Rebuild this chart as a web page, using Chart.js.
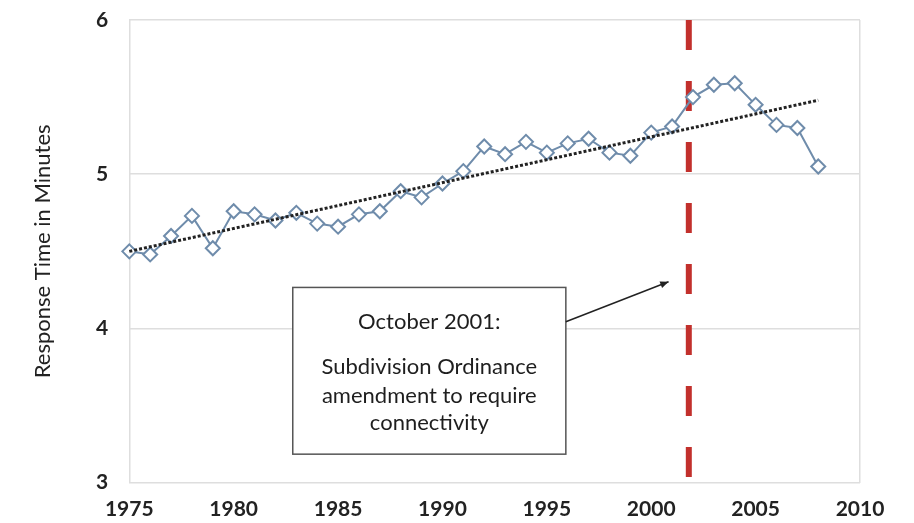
<!DOCTYPE html>
<html>
<head>
<meta charset="utf-8">
<script src="https://cdn.jsdelivr.net/npm/chart.js@4.4.1/dist/chart.umd.min.js"></script>
<style>
  html, body { margin: 0; padding: 0; background: #fff; }
  #wrap { width: 914px; height: 523px; position: relative; }
</style>
</head>
<body>
<div id="wrap"><canvas id="chart"></canvas></div>
<script>
// response time per year
const years = [1975, 1976, 1977, 1978, 1979, 1980, 1981, 1982, 1983, 1984, 1985, 1986,
  1987, 1988, 1989, 1990, 1991, 1992, 1993, 1994, 1995, 1996, 1997, 1998, 1999,
  2000, 2001, 2002, 2003, 2004, 2005, 2006, 2007, 2008];
const responseTimes = [4.50, 4.48, 4.60, 4.73, 4.52, 4.76, 4.74, 4.70, 4.75, 4.68, 4.66, 4.74,
  4.76, 4.89, 4.85, 4.94, 5.02, 5.18, 5.13, 5.21, 5.14, 5.20, 5.23, 5.14, 5.12,
  5.27, 5.31, 5.50, 5.58, 5.59, 5.45, 5.32, 5.30, 5.05];

// dotted trend line endpoints
const trendYears = [1975, 2008];
const trendValues = [4.50, 5.48];

// ordinance date marker
const ordinanceYear = 2001.8;

const xTicks = [1975, 1980, 1985, 1990, 1995, 2000, 2005, 2010];
const yTicks = [3, 4, 5, 6];

const noteLines = ['October 2001:', 'Subdivision Ordinance', 'amendment to require', 'connectivity'];

const FONT = 'Lato, "Open Sans", sans-serif';
const lineColor = '#6f8cab';

// annotation box + arrow, placed in data units
const annotationPlugin = {
  id: 'note',
  afterDatasetsDraw(chart) {
    const { ctx, scales: { x, y } } = chart;
    const left = x.getPixelForValue(1982.83), right = x.getPixelForValue(1995.91);
    const top = y.getPixelForValue(4.266), bottom = y.getPixelForValue(3.185);
    ctx.save();
    ctx.fillStyle = '#fff';
    ctx.fillRect(left, top, right - left, bottom - top);
    ctx.strokeStyle = '#555';
    ctx.lineWidth = 1.5;
    ctx.strokeRect(left, top, right - left, bottom - top);

    ctx.fillStyle = '#1e1e1e';
    ctx.font = '22px ' + FONT;
    ctx.textAlign = 'center';
    ctx.textBaseline = 'middle';
    const cx = (left + right) / 2;
    const lineYs = [4.044, 3.752, 3.562, 3.389];
    noteLines.forEach((t, i) => ctx.fillText(t, cx, y.getPixelForValue(lineYs[i])));

    // arrow from box edge to marker line
    const x0 = right, y0 = y.getPixelForValue(4.044);
    const x1 = x.getPixelForValue(2000.83), y1 = y.getPixelForValue(4.303);
    ctx.strokeStyle = '#222';
    ctx.lineWidth = 1.5;
    ctx.beginPath();
    ctx.moveTo(x0, y0);
    ctx.lineTo(x1, y1);
    ctx.stroke();
    const ang = Math.atan2(y1 - y0, x1 - x0);
    ctx.fillStyle = '#222';
    ctx.beginPath();
    ctx.moveTo(x1, y1);
    ctx.lineTo(x1 - 9 * Math.cos(ang - 0.4), y1 - 9 * Math.sin(ang - 0.4));
    ctx.lineTo(x1 - 9 * Math.cos(ang + 0.4), y1 - 9 * Math.sin(ang + 0.4));
    ctx.closePath();
    ctx.fill();
    ctx.restore();
  }
};

new Chart(document.getElementById('chart'), {
  type: 'line',
  data: {
    datasets: [
      {
        label: 'Response time',
        data: years.map((yr, i) => ({ x: yr, y: responseTimes[i] })),
        borderColor: lineColor,
        borderWidth: 2,
        pointStyle: 'rectRot',
        pointRadius: 7,
        pointBackgroundColor: '#fff',
        pointBorderColor: lineColor,
        pointBorderWidth: 2,
        tension: 0,
        clip: false,
        order: 2
      },
      {
        label: 'Trend',
        data: trendYears.map((yr, i) => ({ x: yr, y: trendValues[i] })),
        borderColor: '#222',
        borderWidth: 3,
        borderDash: [3, 2],
        pointRadius: 0,
        clip: false,
        order: 1
      },
      {
        label: 'October 2001',
        data: [{ x: ordinanceYear, y: 6 }, { x: ordinanceYear, y: 3 }],
        borderColor: '#c2302c',
        borderWidth: 6,
        borderDash: [30, 31],
        pointRadius: 0,
        order: 3
      }
    ]
  },
  options: {
    responsive: true,
    maintainAspectRatio: false,
    animation: false,
    layout: { padding: { top: 20, right: 54, left: 0, bottom: 0 } },
    plugins: {
      legend: { display: false },
      tooltip: { enabled: false }
    },
    scales: {
      x: {
        type: 'linear',
        min: 1975,
        max: 2010,
        afterBuildTicks: (s) => { s.ticks = xTicks.map(v => ({ value: v })); },
        afterFit: (s) => { s.height = 40.3; s.paddingLeft = 0; s.paddingRight = 0; },
        ticks: {
          padding: 14,
          color: '#222',
          font: { family: FONT, size: 21, weight: 'bold' },
          callback: (v) => String(v)
        },
        grid: {
          drawTicks: false,
          lineWidth: 1.5,
          color: (c) => (c.tick && (c.tick.value === 1975 || c.tick.value === 2010)) ? '#dedede' : 'rgba(0,0,0,0)'
        },
        border: { display: false }
      },
      y: {
        min: 3,
        max: 6,
        afterBuildTicks: (s) => { s.ticks = yTicks.map(v => ({ value: v })); },
        afterFit: (s) => { s.width = 129.3; s.paddingTop = 0; s.paddingBottom = 0; },
        ticks: {
          padding: 21,
          color: '#222',
          font: { family: FONT, size: 21, weight: 'bold' }
        },
        grid: { drawTicks: false, color: '#dedede', lineWidth: 1.5 },
        border: { display: false },
        title: {
          display: true,
          text: 'Response Time in Minutes',
          color: '#222',
          font: { family: FONT, size: 22 },
          padding: { top: 30 }
        }
      }
    }
  },
  plugins: [annotationPlugin]
});
</script>
</body>
</html>
